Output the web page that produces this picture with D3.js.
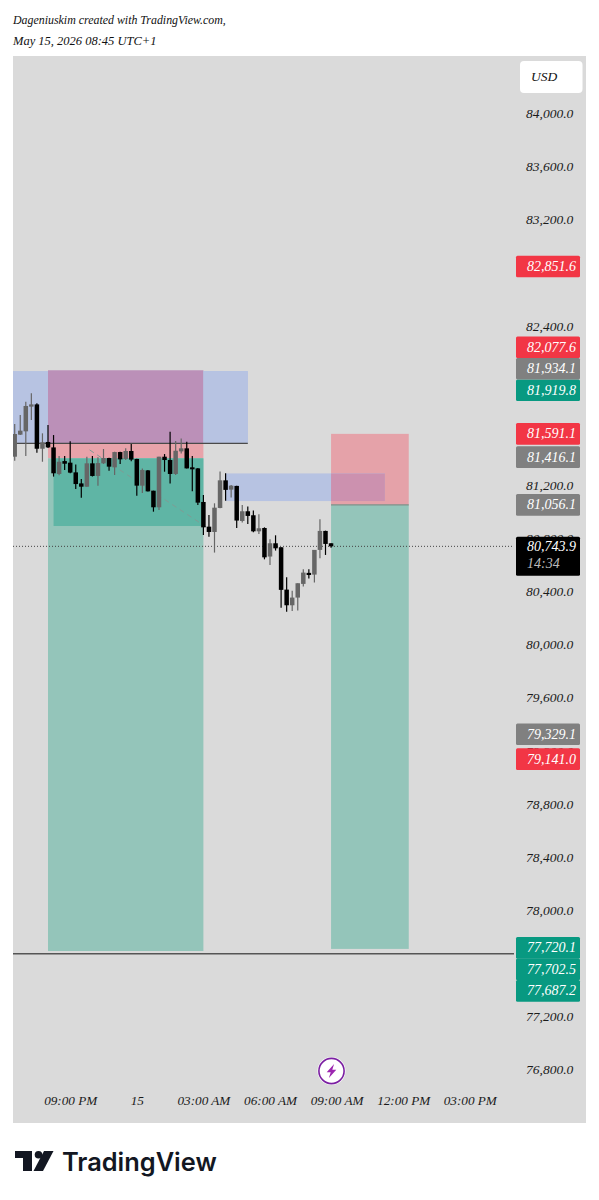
<!DOCTYPE html>
<html>
<head>
<meta charset="utf-8">
<script src="https://cdnjs.cloudflare.com/ajax/libs/d3/7.8.5/d3.min.js"></script>
<style>
html,body{margin:0;padding:0;background:#fff;}
svg{display:block;}
text{font-family:"Liberation Serif",serif;font-style:italic;}
</style>
</head>
<body>
<svg id="c" width="599" height="1200"></svg>
<script>
// candle index 0 = May 14 18:30 UTC+1, 15 minute bars
const opens = [81419,81585,81610,81796,81813,81479,81530,81489,81289,81386,81374,81301,81218,81193,81369,81274,81369,81409,81339,81454,81402,81462,81402,81201,81316,81163,81038,81419,81394,81289,81459,81482,81339,81331,81078,80892,80852,81033,81241,81171,81199,80935,81008,80978,80857,80882,80667,80767,80737,80418,80300,80358,80461,80544,80531,80717,80860,80767];
const highs = [81665,81733,81833,81896,81821,81595,81658,81582,81424,81424,81535,81361,81251,81419,81424,81414,81477,81412,81457,81457,81482,81514,81404,81331,81319,81163,81419,81439,81607,81537,81557,81532,81424,81334,81131,80980,81068,81307,81294,81206,81201,81056,81043,81013,80985,80887,80797,80827,80737,80511,80410,80466,80571,80571,80717,80948,80862,80767];
const lows  = [81389,81582,81424,81695,81449,81381,81484,81269,81279,81319,81294,81176,81110,81193,81269,81201,81364,81314,81281,81364,81394,81384,81125,81146,81156,81005,81018,81306,81218,81281,81444,81331,81158,81055,80830,80817,80697,81030,81088,81111,80882,80923,80912,80850,80837,80646,80604,80712,80282,80252,80257,80260,80441,80501,80471,80654,80679,80734];
const closes= [81590,81615,81801,81813,81479,81527,81489,81294,81381,81366,81299,81213,81193,81369,81274,81371,81409,81344,81454,81399,81462,81397,81201,81319,81158,81038,81419,81394,81289,81464,81482,81331,81329,81073,80887,80852,81035,81241,81169,81201,80938,81008,80973,80857,80880,80661,80767,80729,80416,80300,80358,80466,80546,80528,80717,80860,80762,80743.9];

const priceTicks = [84000,83600,83200,82400,81200,80800,80400,80000,79600,79200,78800,78400,78000,77200,76800];
const timeTickIdx = [10,22,34,46,58,70,82];
const timeTickLabels = ["09:00 PM","15","03:00 AM","06:00 AM","09:00 AM","12:00 PM","03:00 PM"];

// zones: bar index from, bar index to, price top, price bottom
const zoneFrom  = [-3,   6,    6,    6,    7,    34,   57,   57,   38,   57];
const zoneTo    = [42,   34,   34,   34,   34,   42,   71,   71,   66.7, 66.7];
const zoneTop   = [82064,82070,81520,81407,81407,82064,81591,81056,81293,81293];
const zoneBot   = [81520,81520,81407,77696,80897,81520,81056,77712,81085,81085];
const zoneFill  = ["#b7c3e2","#bb90b8","#e8a3aa","#94c5ba","#5fb5a5","#b7c3e2","#e5a2a9","#94c5ba","#b7c3e2","#cc91af"];

const tagRed = [82851.6,81591.1,79141.0];
const tagGray = [81416.1,81056.1,79329.1];
const stackUpPrices = [81919.8,81934.1,82077.6];
const stackUpColors = ["#089981","#808080","#f23645"];
const stackDownPrices = [77720.1,77702.5,77687.2];
const currentPrice = 80743.9;
const countdown = "14:34";
const gridLinePrices = [81520,77675];
const headerLines = ["Dageniuskim created with TradingView.com,","May 15, 2026 08:45 UTC+1"];
const headerSizes = [11.9,12.5];

const svg = d3.select("#c");
const fmt = d3.format(",.1f");
const x = d3.scaleLinear().domain([0,10]).range([14.7,70.2]);
const y = d3.scaleLinear().domain([84000,76800]).range([114,1070]);
const L=13,R=586,T=56,B=1123,AX=514;

svg.append("defs").append("clipPath").attr("id","pane").append("rect")
  .attr("x",L).attr("y",T).attr("width",AX-L).attr("height",B-T);

svg.append("rect").attr("x",L).attr("y",T).attr("width",R-L).attr("height",B-T).attr("fill","#dadada");

// header
svg.append("g").selectAll("text").data(headerLines).join("text")
  .attr("x",13).attr("y",(d,i)=>24+i*21).attr("font-size",(d,i)=>headerSizes[i]).attr("fill","#111").text(d=>d);

// zones
const pane = svg.append("g").attr("clip-path","url(#pane)");
pane.selectAll("rect.z").data(zoneFill).join("rect").attr("class","z")
  .attr("x",(d,i)=>x(zoneFrom[i])).attr("width",(d,i)=>x(zoneTo[i])-x(zoneFrom[i]))
  .attr("y",(d,i)=>y(zoneTop[i])).attr("height",(d,i)=>y(zoneBot[i])-y(zoneTop[i]))
  .attr("fill",d=>d);

// horizontal lines
pane.append("line").attr("x1",L).attr("x2",x(42)).attr("y1",y(gridLinePrices[0])).attr("y2",y(gridLinePrices[0]))
  .attr("stroke","#4a4a4a").attr("stroke-width",1.3);
svg.append("line").attr("x1",L).attr("x2",AX).attr("y1",y(gridLinePrices[1])).attr("y2",y(gridLinePrices[1]))
  .attr("stroke","#555").attr("stroke-width",1.4);
// pink/green boundary
pane.append("line").attr("x1",x(57)).attr("x2",x(71)).attr("y1",y(81056)).attr("y2",y(81056))
  .attr("stroke","#808f88").attr("stroke-width",1.2);
// diagonal dashed trend
pane.append("line").attr("x1",x(13.5)).attr("y1",y(81470)).attr("x2",x(34.5)).attr("y2",y(80890))
  .attr("stroke","#7f9c95").attr("stroke-width",1).attr("stroke-dasharray","5 4");
// current price line
pane.append("line").attr("x1",L).attr("x2",AX).attr("y1",y(currentPrice)).attr("y2",y(currentPrice))
  .attr("stroke","#444").attr("stroke-width",1).attr("stroke-dasharray","1 2");

// candles
const color = i => closes[i] >= opens[i] ? "#666" : "#000";
const candles = pane.append("g").selectAll("g").data(opens).join("g");
candles.append("line")
  .attr("x1",(d,i)=>x(i)).attr("x2",(d,i)=>x(i))
  .attr("y1",(d,i)=>y(highs[i])).attr("y2",(d,i)=>y(lows[i]))
  .attr("stroke",(d,i)=>color(i)).attr("stroke-width",1.2);
candles.append("rect")
  .attr("x",(d,i)=>x(i)-2.25).attr("width",4.5)
  .attr("y",(d,i)=>y(Math.max(opens[i],closes[i])))
  .attr("height",(d,i)=>Math.max(2,Math.abs(y(opens[i])-y(closes[i]))))
  .attr("fill",(d,i)=>color(i));

// axes
const yAxis = d3.axisRight(y).tickValues(priceTicks).tickFormat(fmt).tickSize(0).tickPadding(0);
const gy = svg.append("g").attr("transform","translate(526,-1)").call(yAxis);
gy.select(".domain").remove();
gy.selectAll("text").attr("font-size",13.5).attr("font-family",null).attr("fill","#1a1a1a").attr("dy","0.35em");

const xAxis = d3.axisBottom(x).tickValues(timeTickIdx).tickFormat((d,i)=>timeTickLabels[i]).tickSize(0).tickPadding(0);
const gx = svg.append("g").attr("transform","translate(0,1105)").call(xAxis);
gx.select(".domain").remove();
gx.selectAll("text").attr("font-size",13.2).attr("font-family",null).attr("fill","#1a1a1a").attr("dy","0");

// price tags
function tag(py,fill,label){
  const g = svg.append("g");
  g.append("rect").attr("x",516).attr("y",py-10.8).attr("width",64).attr("height",21.6).attr("rx",1.5).attr("fill",fill);
  g.append("text").attr("x",527).attr("y",py+4.6).attr("font-size",14).attr("fill","#fff").text(label);
}
tagGray.forEach(p=>tag(y(p),"#808080",fmt(p)));
tagRed.forEach(p=>tag(y(p),"#f23645",fmt(p)));
const slot = 21.5;
stackUpPrices.forEach((p,i)=>tag(y(stackUpPrices[0])-i*slot,stackUpColors[i],fmt(p)));
stackDownPrices.forEach((p,i)=>tag(y(stackDownPrices[0])+i*slot,"#089981",fmt(p)));

// current price box
const cy = y(currentPrice);
svg.append("rect").attr("x",516).attr("y",cy-9.5).attr("width",64).attr("height",39).attr("rx",1.5).attr("fill","#000");
svg.append("text").attr("x",527).attr("y",cy+4.6).attr("font-size",14).attr("fill","#fff").text(fmt(currentPrice));
svg.append("text").attr("x",527).attr("y",cy+22).attr("font-size",14).attr("fill","#bbb").text(countdown);

// USD
svg.append("rect").attr("x",520).attr("y",61).attr("width",62.5).attr("height",32).attr("rx",4).attr("fill","#fff");
svg.append("text").attr("x",531).attr("y",81).attr("font-size",13.5).attr("fill","#111").text("USD");

// lightning
const bolt = svg.append("g").attr("transform","translate(331.5,1071)");
bolt.append("circle").attr("r",14).attr("fill","#fff");
bolt.append("circle").attr("r",12.6).attr("fill","#fff").attr("stroke","#7b1fa2").attr("stroke-width",1.6);
bolt.append("path").attr("d","M2.6,-7 L-4.8,1.2 L-0.8,1.2 L-2.6,7 L4.8,-1.2 L0.8,-1.2 Z").attr("fill","#9c27b0");

// logo
const logo = svg.append("g").attr("fill","#131722");
logo.append("path").attr("d","M15,1151 H32 V1171 H23 V1158 H15 Z");
logo.append("circle").attr("cx",38.5).attr("cy",1154.8).attr("r",3.8);
logo.append("path").attr("d","M44,1151 H53.5 L43,1171 H33.5 Z");
logo.append("text").attr("x",62).attr("y",1171).attr("font-size",25.4).attr("font-weight",600)
  .style("font-family","Inter,'Noto Sans',sans-serif").style("font-style","normal").attr("fill","#131722").text("TradingView");
</script>
</body>
</html>
